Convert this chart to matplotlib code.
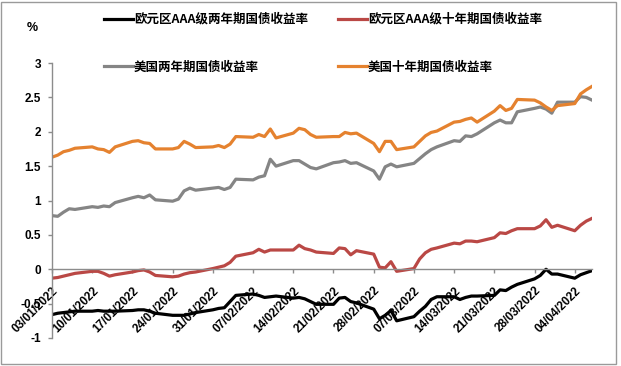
import matplotlib
matplotlib.use('Agg')
import matplotlib.pyplot as plt
import matplotlib.patches as patches
import pandas as pd

plt.rcParams['font.family'] = ['Noto Sans CJK SC', 'DejaVu Sans']

# trading days shown in the chart
dates = pd.bdate_range('2022-01-03', '2022-04-07')

# yields, %
eu2y = [-0.66, -0.64, -0.63, -0.62, -0.61,
        -0.61, -0.60, -0.61, -0.61, -0.61,
        -0.60, -0.59, -0.59, -0.61, -0.64,
        -0.67, -0.67, -0.67, -0.65, -0.63,
        -0.59, -0.57, -0.56, -0.47, -0.38,
        -0.36, -0.38, -0.41, -0.40, -0.39,
        -0.42, -0.41, -0.43, -0.47, -0.51,
        -0.51, -0.42, -0.41, -0.47, -0.49,
        -0.58, -0.72, -0.67, -0.60, -0.75,
        -0.69, -0.61, -0.54, -0.44, -0.40,
        -0.40, -0.44, -0.41, -0.39, -0.39,
        -0.38, -0.30, -0.31, -0.26, -0.22,
        -0.14, -0.09, 0.00, -0.07, -0.07,
        -0.13, -0.08, -0.05, -0.02]

eu10y = [-0.13, -0.12, -0.10, -0.08, -0.06,
         -0.03, -0.03, -0.06, -0.10, -0.08,
         -0.04, -0.02, -0.01, -0.04, -0.09,
         -0.11, -0.10, -0.07, -0.05, -0.04,
         0.01, 0.03, 0.05, 0.10, 0.19,
         0.24, 0.29, 0.25, 0.28, 0.28,
         0.28, 0.35, 0.30, 0.28, 0.25,
         0.23, 0.31, 0.30, 0.21, 0.27,
         0.22, 0.03, 0.02, 0.11, -0.03,
         0.01, 0.15, 0.24, 0.29, 0.31,
         0.38, 0.37, 0.41, 0.41, 0.40,
         0.46, 0.53, 0.52, 0.56, 0.59,
         0.59, 0.63, 0.72, 0.61, 0.64,
         0.56, 0.64, 0.70, 0.74]

us2y = [0.78, 0.77, 0.83, 0.88, 0.87,
        0.91, 0.90, 0.92, 0.91, 0.97,
        1.04, 1.06, 1.04, 1.08, 1.01,
        0.99, 1.02, 1.14, 1.18, 1.15,
        1.18, 1.19, 1.16, 1.19, 1.31,
        1.30, 1.34, 1.36, 1.60, 1.50,
        1.58, 1.58, 1.53, 1.48, 1.46,
        1.55, 1.56, 1.58, 1.54, 1.55,
        1.43, 1.31, 1.49, 1.53, 1.49,
        1.54, 1.61, 1.68, 1.74, 1.78,
        1.87, 1.86, 1.94, 1.93, 1.97,
        2.13, 2.17, 2.13, 2.13, 2.29,
        2.34, 2.36, 2.33, 2.27, 2.43,
        2.43, 2.51, 2.50, 2.46]

us10y = [1.63, 1.66, 1.71, 1.73, 1.76,
         1.78, 1.75, 1.74, 1.70, 1.78,
         1.86, 1.87, 1.84, 1.83, 1.75,
         1.75, 1.77, 1.86, 1.82, 1.77,
         1.78, 1.80, 1.77, 1.82, 1.93,
         1.92, 1.96, 1.93, 2.04, 1.91,
         1.98, 2.05, 2.03, 1.96, 1.92,
         1.93, 1.93, 1.99, 1.97, 1.98,
         1.83, 1.71, 1.86, 1.86, 1.74,
         1.78, 1.86, 1.94, 1.99, 2.01,
         2.14, 2.15, 2.18, 2.20, 2.14,
         2.30, 2.38, 2.31, 2.34, 2.47,
         2.46, 2.42, 2.36, 2.31, 2.38,
         2.41, 2.55, 2.61, 2.66]

names = ['欧元区AAA级两年期国债收益率', '欧元区AAA级十年期国债收益率',
         '美国两年期国债收益率', '美国十年期国债收益率']
colors = ['#000000', '#BA4845', '#858585', '#E5822F']

tick_dates = pd.date_range('2022-01-03', '2022-04-04', freq='7D')
tick_labels = [d.strftime('%d/%m/%Y') for d in tick_dates]
yticks = [-1, -0.5, 0, 0.5, 1, 1.5, 2, 2.5, 3]

fig = plt.figure(figsize=(6.21, 3.66), dpi=100)
ax = fig.add_axes([52/621, 1-338/366, (592-52)/621, (338-63)/366])

lines = []
for vals, name, c in zip([eu2y, eu10y, us2y, us10y], names, colors):
    ln, = ax.plot(dates, vals, color=c, lw=2.3, label=name, solid_joinstyle='round')
    lines.append(ln)

ax.spines['top'].set_visible(False)
ax.spines['right'].set_visible(False)
ax.spines['bottom'].set_position(('data', 0))
for s in ['left', 'bottom']:
    ax.spines[s].set_color('#8c8c8c')
    ax.spines[s].set_linewidth(1)
ax.tick_params(axis='both', colors='#8c8c8c', labelcolor='black', length=3, width=1)
ax.tick_params(axis='x', pad=8, labelrotation=45)
ax.tick_params(axis='y', pad=5)
ax.patch.set_visible(False)

ax.set_xlim(dates[0], dates[-1])
ax.set_ylim(-1, 3)
ax.set_yticks(yticks)
ax.set_yticklabels([f'{v:g}' for v in yticks], fontfamily='Liberation Sans',
                   fontweight='bold', fontsize=8.5)
ax.set_xticks(tick_dates)
ax.set_xticklabels(tick_labels, fontfamily='Liberation Sans',
                   fontweight='bold', fontsize=8.5)
plt.setp(ax.get_xticklabels(), rotation=45, ha='right', va='top',
         rotation_mode='anchor')

fig.text(32/621, 1-28/366, '%', ha='center', va='center', fontsize=9,
         fontweight='bold', fontfamily='Liberation Sans')

order = [0, 2, 1, 3]
fig.legend([lines[i] for i in order], [names[i] for i in order], ncol=2,
           loc='upper left', bbox_to_anchor=(104/621, 1-13/366), frameon=False,
           borderpad=0, borderaxespad=0, handlelength=2.3, handletextpad=0.1,
           columnspacing=2.4, labelspacing=2.75,
           prop={'size': 9, 'weight': 'bold'})

fig.patches.append(patches.Rectangle((1/621, 2/366), 615/621, 362/366,
                                     transform=fig.transFigure, fill=False,
                                     edgecolor='#9a9a9a', lw=1))

fig.savefig('out.png', dpi=100)
